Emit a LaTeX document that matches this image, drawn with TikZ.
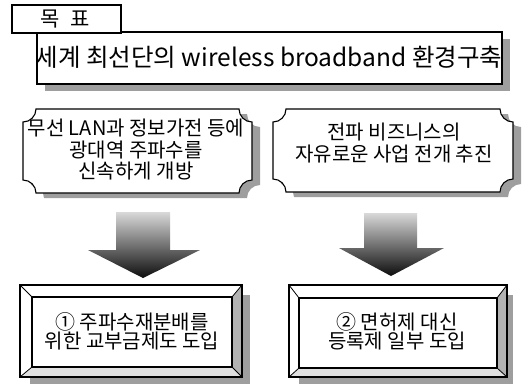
\documentclass[tikz,border=0pt]{standalone}
\usepackage{fontspec}
\setmainfont{Noto Sans CJK KR}
\newcommand\plaquepath[5]{%
  (#1+#5,#2) -- (#3-#5,#2)
  .. controls (#3-#5,#2+0.55*#5) and (#3-0.55*#5,#2+#5) .. (#3,#2+#5)
  -- (#3,#4-#5)
  .. controls (#3-0.55*#5,#4-#5) and (#3-#5,#4-0.55*#5) .. (#3-#5,#4)
  -- (#1+#5,#4)
  .. controls (#1+#5,#4-0.55*#5) and (#1+0.55*#5,#4-#5) .. (#1,#4-#5)
  -- (#1,#2+#5)
  .. controls (#1+0.55*#5,#2+#5) and (#1+#5,#2+0.55*#5) .. (#1+#5,#2) -- cycle}
\newcommand\bevelbox[8]{%
  \fill[white] (#1,#2) rectangle (#3,#4);
  \fill[black!30] (#3,#2) -- (#3,#4) -- (#7,#8) -- (#7,#6) -- cycle;
  \fill[black!12] (#1,#4) -- (#3,#4) -- (#7,#8) -- (#5,#8) -- cycle;
  \draw[boxline] (#1,#2) rectangle (#3,#4);
  \draw[boxline] (#5,#6) rectangle (#7,#8);
  \draw[thinline] (#1,#2) -- (#5,#6) (#3,#2) -- (#7,#6)
    (#1,#4) -- (#5,#8) (#3,#4) -- (#7,#8);}
\begin{document}
\begin{tikzpicture}[x=1pt,y=-1pt,
  boxline/.style={draw=black,line width=1.1pt},
  thinline/.style={draw=black,line width=0.8pt},
  shadowfill/.style={fill=black!38},
  bigtext/.style={font=\fontsize{24.5}{24.5}\selectfont,inner sep=0pt},
  midtext/.style={font=\fontsize{20}{21.5}\selectfont,align=center,inner sep=0pt},
  lowtext/.style={font=\fontsize{20}{19.5}\selectfont,align=center,inner sep=0pt},
  blockarrow/.style={top color=black!15,bottom color=black!95,middle color=black!55}]
\useasboundingbox (0,0) rectangle (532,384);
% goal banner
\fill[shadowfill] (45,39) rectangle (510,91);
\draw[boxline,fill=white] (37,32) rectangle (502,84);
\draw[boxline,fill=white] (12,5) rectangle (121,33);
\node[font=\fontsize{21}{21}\selectfont,inner sep=0pt] (goal) at (65.5,19) {목\hspace{0.5em}표};
\node[bigtext] (vision) at (269,57) {세계 최선단의 wireless broadband 환경구축};
% middle plaques
\fill[shadowfill] \plaquepath{31}{114}{260}{198}{13};
\draw[boxline,fill=white] \plaquepath{23}{109}{252}{193}{13};
\fill[shadowfill] \plaquepath{281}{114}{521}{197}{13};
\draw[boxline,fill=white] \plaquepath{273}{109}{513}{192}{13};
\node[midtext] (m1) at (136,150) {무선 LAN과 정보가전 등에\\광대역 주파수를\\신속하게 개방};
\node[midtext] (m2) at (394,143) {전파 비즈니스의\\자유로운 사업 전개 추진};
% block arrows
\shade[blockarrow] (116,212) -- (170,212) -- (170,250) -- (200,250) -- (143,278) -- (88,250) -- (116,250) -- cycle;
\shade[blockarrow] (364,213) -- (417,213) -- (417,248) -- (444,248) -- (391,276) -- (339,248) -- (364,248) -- cycle;
% bottom bevel boxes
\fill[shadowfill] (30,295) rectangle (250,384);
\bevelbox{20}{285}{242}{377}{32}{297}{232}{367}
\fill[shadowfill] (299,295) rectangle (513,384);
\bevelbox{289}{285}{507}{377}{299}{298}{497}{368}
\node[lowtext] (b1) at (132,331.5) {① 주파수재분배를\\위한 교부금제도 도입};
\node[lowtext] (b2) at (397,331.5) {② 면허제 대신\\등록제 일부 도입};
\end{tikzpicture}
\end{document}
